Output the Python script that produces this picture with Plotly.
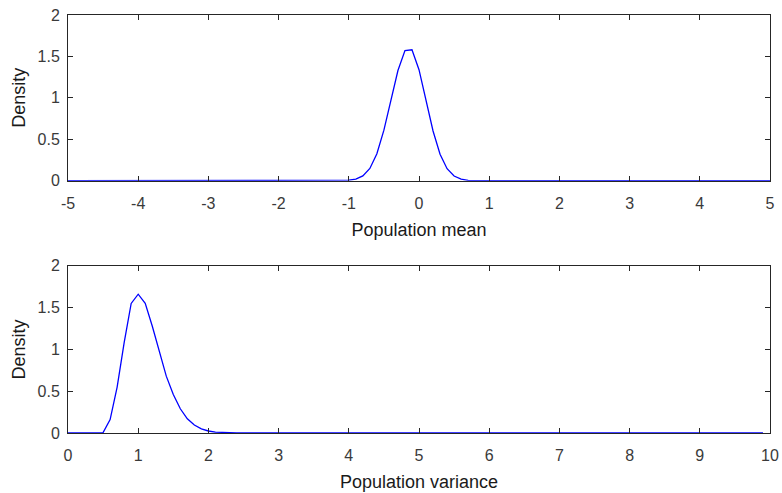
import plotly.graph_objects as go

# Top panel: posterior density of population mean
mean_x = [-5.0, -1.1, -1.0, -0.9, -0.8, -0.7, -0.6, -0.5, -0.4, -0.3, -0.2, -0.1,
          0.0, 0.1, 0.2, 0.3, 0.4, 0.5, 0.6, 0.7, 0.8, 5.0]
mean_y = [0.0, 0.0, 0.006, 0.02, 0.058, 0.148, 0.325, 0.61, 0.97, 1.33, 1.57, 1.58,
          1.34, 0.97, 0.6, 0.32, 0.145, 0.057, 0.019, 0.005, 0.0, 0.0]

# Bottom panel: posterior density of population variance
var_x = [0.0, 0.4, 0.5, 0.6, 0.7, 0.8, 0.9, 1.0, 1.1, 1.2, 1.3, 1.4, 1.5, 1.6,
         1.7, 1.8, 1.9, 2.0, 2.1, 2.2, 2.3, 2.4, 9.9]
var_y = [0.0, 0.0, 0.005, 0.16, 0.55, 1.08, 1.55, 1.66, 1.55, 1.28, 0.97, 0.68,
         0.46, 0.29, 0.17, 0.095, 0.05, 0.024, 0.011, 0.005, 0.002, 0.0, 0.0]

mean_ticks = [-5, -4, -3, -2, -1, 0, 1, 2, 3, 4, 5]
mean_labels = ["-5", "-4", "-3", "-2", "-1", "0", "1", "2", "3", "4", "5"]
var_ticks = [0, 1, 2, 3, 4, 5, 6, 7, 8, 9, 10]
var_labels = ["0", "1", "2", "3", "4", "5", "6", "7", "8", "9", "10"]
dens_ticks = [0, 0.5, 1, 1.5, 2]
dens_labels = ["0", "0.5", "1", "1.5", "2"]

FONT = "Liberation Sans, Arial, sans-serif"
AX = "#262626"
LAB = "#3a3a3a"
TITLE_FONT = dict(family=FONT, size=18, color="#1a1a1a")

fig = go.Figure()
fig.add_trace(go.Scatter(x=mean_x, y=mean_y, mode="lines",
                         line=dict(color="#0000ff", width=1.3),
                         xaxis="x", yaxis="y", showlegend=False))
fig.add_trace(go.Scatter(x=var_x, y=var_y, mode="lines",
                         line=dict(color="#0000ff", width=1.3),
                         xaxis="x2", yaxis="y2", showlegend=False))

common = dict(showline=True, linecolor=AX, linewidth=1, mirror="ticks",
              ticks="inside", ticklen=5, tickcolor=AX, tickwidth=1,
              showgrid=False, zeroline=False, automargin=False,
              tickfont=dict(family=FONT, size=16, color=LAB))

fig.update_layout(
    width=782, height=493,
    margin=dict(l=68, r=12, t=15, b=60),
    paper_bgcolor="white", plot_bgcolor="white",
    font=dict(family=FONT, color=AX),
    xaxis=dict(domain=[0, 1], range=[-5, 5], tickvals=mean_ticks,
               ticktext=mean_labels, anchor="y", ticklabelstandoff=8,
               title=dict(text="Population mean", standoff=12, font=TITLE_FONT),
               **common),
    yaxis=dict(domain=[0.6036, 1], range=[0, 2], tickvals=dens_ticks,
               ticktext=dens_labels, anchor="x", ticklabelstandoff=4,
               title=dict(text="Density", standoff=7, font=TITLE_FONT),
               **common),
    xaxis2=dict(domain=[0, 1], range=[0, 10], tickvals=var_ticks,
                ticktext=var_labels, anchor="y2", ticklabelstandoff=8,
                title=dict(text="Population variance", standoff=12, font=TITLE_FONT),
                **common),
    yaxis2=dict(domain=[0, 0.4], range=[0, 2], tickvals=dens_ticks,
                ticktext=dens_labels, anchor="x2", ticklabelstandoff=4,
                title=dict(text="Density", standoff=7, font=TITLE_FONT),
                **common),
)

fig.write_html("out.html")
